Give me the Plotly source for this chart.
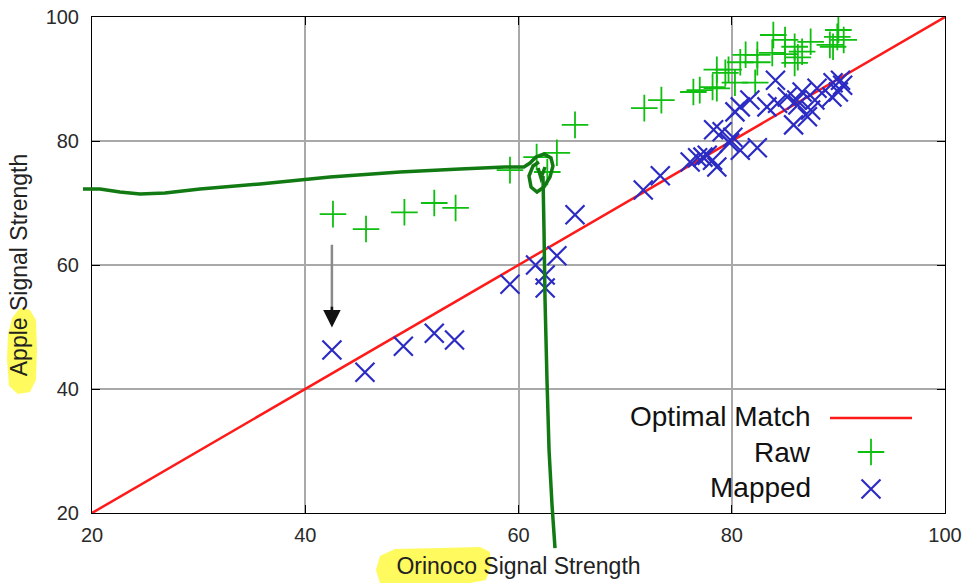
import plotly.graph_objects as go

# ---- data ----
raw_x = [42.6, 45.7, 49.3, 52.1, 54.1, 59.2, 61.7, 62.7, 63.6, 65.3,
         71.8, 73.4, 76.4, 77.0, 78.2, 78.6, 78.6, 79.4, 79.7, 80.3,
         82.2, 80.8, 82.4, 81.3, 83.9, 85.0, 85.9, 86.6, 86.2, 87.4,
         89.2, 89.9, 90.0, 90.5, 89.5, 83.8, 85.9, 82.4, 85.0]
raw_y = [68.2, 65.8, 68.5, 70.0, 69.2, 75.3, 77.4, 75.0, 78.1, 82.6,
         85.3, 86.6, 87.9, 88.2, 88.7, 88.5, 91.5, 91.0, 91.5, 89.4,
         89.4, 92.7, 92.7, 93.9, 97.1, 96.3, 95.2, 94.4, 93.5, 96.0,
         95.5, 96.8, 97.9, 96.3, 95.2, 94.2, 92.6, 93.9, 94.0]

mapped_x = [42.5, 45.6, 49.2, 52.1, 54.0, 59.2, 61.6, 62.5, 62.5, 63.6,
            65.3, 71.7, 73.3, 76.1, 76.8, 77.3, 77.7, 78.2, 78.6, 78.3,
            79.1, 79.8, 80.1, 80.8, 82.4, 80.8, 81.7, 80.3, 84.1, 83.3,
            86.1, 85.8, 87.4, 88.0, 89.4, 90.2, 90.4, 86.6, 86.2, 87.1,
            84.3, 85.2, 87.8, 89.5, 90.0]
mapped_y = [46.3, 42.7, 46.9, 49.0, 47.9, 56.9, 60.0, 58.4, 56.3, 61.5,
            68.1, 72.1, 74.4, 76.6, 77.3, 77.4, 77.7, 76.9, 75.8, 81.8,
            81.5, 79.7, 80.6, 78.5, 78.9, 85.5, 86.6, 84.7, 89.8, 85.5,
            86.6, 82.6, 85.0, 88.5, 87.1, 89.8, 89.0, 87.9, 85.8, 83.9,
            86.1, 87.1, 86.6, 89.4, 87.9]

optimal_x = [20, 100]
optimal_y = [20, 100]

x_ticks = [20, 40, 60, 80, 100]
y_ticks = [20, 40, 60, 80, 100]

legend_labels = ["Optimal Match", "Raw", "Mapped"]

RED = "#ff1a1a"
GREEN = "#0fbf0f"
BLUE = "#2b2bc4"
FONT = "Liberation Sans, Arial, sans-serif"

# plot-area geometry (pixels) for paper-coordinate overlays
L, R, T, B = 92, 945, 17, 513
W, H = 968, 583


def px(xp, yp):
    return (xp - L) / (R - L), (B - yp) / (B - T)


def path_from(points):
    s = ""
    for i, (a, b) in enumerate(points):
        u, v = px(a, b)
        s += ("M" if i == 0 else "L") + f"{u:.4f},{v:.4f} "
    return s


fig = go.Figure()

fig.add_trace(go.Scatter(x=optimal_x, y=optimal_y, mode="lines",
                         line=dict(color=RED, width=2.5), showlegend=False,
                         hoverinfo="skip"))
fig.add_trace(go.Scatter(x=raw_x, y=raw_y, mode="markers", showlegend=False,
                         marker=dict(symbol="cross-thin", size=19,
                                     line=dict(color=GREEN, width=1.8))))
fig.add_trace(go.Scatter(x=mapped_x, y=mapped_y, mode="markers", showlegend=False,
                         marker=dict(symbol="x-thin", size=19,
                                     line=dict(color=BLUE, width=2.2))))

# legend samples on an overlay [0,1] axis pair
lx, ly_raw = px(871, 452)
_, ly_map = px(871, 489)
fig.add_trace(go.Scatter(x=[lx], y=[ly_raw], xaxis="x2", yaxis="y2", mode="markers",
                         showlegend=False, hoverinfo="skip",
                         marker=dict(symbol="cross-thin", size=19,
                                     line=dict(color=GREEN, width=1.8))))
fig.add_trace(go.Scatter(x=[lx], y=[ly_map], xaxis="x2", yaxis="y2", mode="markers",
                         showlegend=False, hoverinfo="skip",
                         marker=dict(symbol="x-thin", size=19,
                                     line=dict(color=BLUE, width=2.2))))

shapes = []
# white legend box
x0, y0 = px(612, 401)
x1, y1 = px(936, 504)
shapes.append(dict(type="rect", xref="paper", yref="paper", x0=x0, y0=y1, x1=x1, y1=y0,
                   fillcolor="white", line=dict(width=0), layer="between"))
# legend red line
a0, b0 = px(830, 418)
a1, _ = px(912, 418)
shapes.append(dict(type="line", xref="paper", yref="paper", x0=a0, y0=b0, x1=a1, y1=b0,
                   line=dict(color=RED, width=2.5)))

# yellow highlighter marks
apple_blob = [(12, 318), (20, 308), (30, 310), (36, 320), (37, 350), (36, 380),
              (30, 392), (18, 394), (9, 386), (7, 360), (8, 335), (12, 318)]
orin_blob = [(380, 556), (395, 549), (440, 548), (480, 547), (490, 552), (491, 566),
             (486, 580), (470, 583), (380, 583), (376, 570), (380, 556)]
for blob in (apple_blob, orin_blob):
    shapes.append(dict(type="path", xref="paper", yref="paper", path=path_from(blob) + "Z",
                       fillcolor="rgba(255,248,40,0.75)", line=dict(width=0), layer="below"))

# hand-drawn green pen stroke
pen = [(83, 189), (100, 189), (120, 192), (140, 194), (165, 193), (200, 189), (260, 184),
       (330, 177), (400, 172), (460, 169), (505, 167), (524, 167), (530, 163), (536, 157),
       (544, 154), (551, 158), (553, 166), (550, 177), (544, 187), (537, 192), (531, 187),
       (529, 176), (533, 166), (539, 162)]
hook = [(538, 168), (541, 178), (545, 167)]
vert = [(543, 176), (544, 230), (545, 300), (547, 380), (549, 450), (552, 505), (555, 548)]
for seg in (pen, hook, vert):
    shapes.append(dict(type="path", xref="paper", yref="paper", path=path_from(seg),
                       line=dict(color="#127a12", width=3.5), layer="above"))

annotations = []
for lab, yy in zip(legend_labels, [416, 452, 487]):
    u, v = px(813, yy)
    annotations.append(dict(xref="paper", yref="paper", x=u, y=v, text=lab, showarrow=False,
                            xanchor="right", yanchor="middle",
                            font=dict(family=FONT, size=28, color="#111")))

# the arrow (gray shaft, black head)
annotations.append(dict(x=42.5, y=51.5, ax=42.5, ay=63.5, xref="x", yref="y",
                        axref="x", ayref="y", text="", showarrow=True,
                        arrowhead=0, arrowwidth=2.5, arrowcolor="#8a8a8a"))
annotations.append(dict(x=42.5, y=49.9, ax=42.5, ay=53.5, xref="x", yref="y",
                        axref="x", ayref="y", text="", showarrow=True,
                        arrowhead=2, arrowsize=1.4, arrowwidth=2.5, arrowcolor="#111"))

axis_common = dict(showline=True, linecolor="#000", linewidth=1, mirror="allticks",
                   ticks="inside", ticklen=8, tickcolor="#000", tickwidth=1,
                   showgrid=True, gridcolor="#a9a9a9", gridwidth=1.5, zeroline=False,
                   automargin=False,
                   tickfont=dict(family=FONT, size=20, color="#2a2a2a"))

fig.update_layout(
    width=W, height=H,
    margin=dict(l=L, r=W - R, t=T, b=H - B, autoexpand=False),
    paper_bgcolor="white", plot_bgcolor="white",
    showlegend=False,
    xaxis=dict(range=[20, 100], tickvals=x_ticks, ticklabelstandoff=4,
               title=dict(text="Orinoco Signal Strength", standoff=12,
                          font=dict(family=FONT, size=23, color="#222")),
               **axis_common),
    yaxis=dict(range=[20, 100], tickvals=y_ticks, ticklabelstandoff=8,
               title=dict(text="Apple Signal Strength", standoff=11,
                          font=dict(family=FONT, size=23, color="#222")),
               **axis_common),
    xaxis2=dict(overlaying="x", range=[0, 1], visible=False),
    yaxis2=dict(overlaying="y", range=[0, 1], visible=False),
    shapes=shapes,
    annotations=annotations,
)

fig.write_html("out.html", config={"displayModeBar": False},
               post_script="document.body.style.margin='0px';"
                           "document.body.style.overflow='hidden';")
